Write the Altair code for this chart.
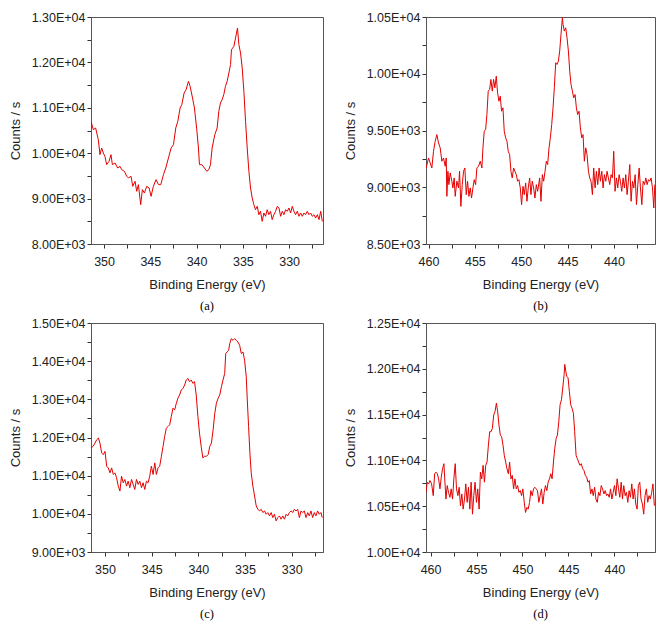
import altair as alt
import pandas as pd

# ---------------- data ----------------
a_ev = [351.41, 351.16, 350.91, 350.62, 350.44, 350.26, 350.08, 349.90, 349.72, 349.46,
        349.25, 349.10, 348.81, 348.53, 348.27, 348.09, 347.80, 347.55, 347.37, 347.08,
        346.90, 346.65, 346.47, 346.29, 346.04, 345.86, 345.64, 345.39, 345.13, 344.92,
        344.67, 344.38, 344.12, 343.87, 343.58, 343.33, 343.04, 342.75, 342.50, 342.25,
        342.03, 341.78, 341.60, 341.35, 341.13, 340.88, 340.70, 340.44, 340.23, 339.98,
        339.80, 339.69, 339.43, 339.15, 338.89,
        338.68, 338.50, 338.32, 338.03, 337.78, 337.60, 337.42, 337.24, 337.06, 336.88,
        336.70, 336.51, 336.33, 336.23, 335.97, 335.79, 335.58, 335.43, 335.25, 335.07,
        334.89, 334.71, 334.53, 334.35, 334.17, 333.99, 333.81, 333.63, 333.45, 333.27,
        333.09, 332.91, 332.73, 332.55, 332.37, 332.19, 332.01, 331.83, 331.65, 331.46,
        331.28, 331.10, 330.92, 330.74, 330.56, 330.38, 330.20, 330.02, 329.84, 329.66,
        329.48, 329.30, 329.12, 328.94, 328.76, 328.58, 328.40, 328.22, 328.04, 327.86,
        327.68, 327.50, 327.32, 327.14, 326.95, 326.77, 326.59, 326.41]
a_counts = [10702, 10519, 10555, 10298, 9968, 10115, 10005, 9931, 9748, 9821,
            9968, 9748, 9784, 9674, 9711, 9637, 9601, 9491, 9454, 9491,
            9270, 9381, 9160, 9307, 8867, 9197, 9124, 9270, 9234, 9050,
            9270, 9417, 9307, 9307, 9527, 9674, 9895, 10115, 10188, 10555,
            10702, 10996, 11069, 11326, 11400, 11583, 11473, 11216, 10996, 10519,
            10115, 9748, 9748, 9674, 9601,
            9638, 9748, 10115, 10409, 10555, 10923, 11106, 11180, 11290, 11473,
            11583, 11767, 11951, 12281, 12354, 12538, 12758, 12391, 12208, 11877,
            11363, 10702, 10115, 9601, 9234, 9013, 8867, 8756, 8830, 8646,
            8720, 8499, 8683, 8610, 8756, 8646, 8720, 8536, 8646, 8720,
            8830, 8793, 8610, 8720, 8646, 8756, 8720, 8793, 8683, 8830,
            8720, 8646, 8720, 8610, 8683, 8610, 8683, 8646, 8720, 8646,
            8683, 8610, 8646, 8573, 8646, 8536, 8720, 8499]

b_ev = [460.25, 460.00, 459.82, 459.64, 459.46, 459.28, 459.10, 458.92, 458.74, 458.56,
        458.38, 458.20, 458.09, 458.02, 457.91, 457.80, 457.66, 457.48, 457.37, 457.23,
        457.12, 456.94, 456.76, 456.65, 456.51, 456.36, 456.22, 456.08, 455.93, 455.79,
        455.64, 455.50, 455.36, 455.21, 455.07, 454.92, 454.78, 454.60, 454.42, 454.24,
        454.13, 453.99, 453.84, 453.70, 453.56, 453.41, 453.27, 453.12, 452.98, 452.84,
        452.69, 452.55, 452.40, 452.26, 452.12, 451.97, 451.83, 451.68, 451.54, 451.40,
        451.25, 451.11, 450.97, 450.82, 450.68, 450.53, 450.39, 450.25, 450.10, 449.96,
        449.81, 449.67, 449.52, 449.38, 449.24, 449.09, 448.95, 448.81, 448.66, 448.52,
        448.37, 448.23, 448.09,
        448.01, 447.87, 447.72, 447.58, 447.43, 447.29, 447.15, 447.00, 446.86, 446.71,
        446.57, 446.43, 446.28, 446.14, 445.99, 445.85, 445.71, 445.56,
        445.49, 445.35, 445.20, 445.06, 444.91, 444.77, 444.63, 444.48, 444.34, 444.19,
        444.05, 443.91, 443.76, 443.62, 443.47, 443.33, 443.19, 443.04, 442.90, 442.75,
        442.61, 442.47, 442.32, 442.18, 442.03, 441.89, 441.75, 441.60, 441.46, 441.31,
        441.17, 441.03, 440.88, 440.74, 440.60, 440.45, 440.31, 440.16, 440.02, 439.88,
        439.73, 439.59, 439.44, 439.30, 439.16, 439.01, 438.87, 438.72, 438.58, 438.44,
        438.29, 438.15, 438.00, 437.86, 437.71, 437.57, 437.42, 437.28, 437.14, 436.99,
        436.85, 436.70, 436.56, 436.42, 436.27, 436.13, 435.99, 435.84, 435.70, 435.59]
b_counts = [9170, 9258, 9214, 9170, 9317, 9405, 9464, 9391, 9347, 9229,
            9258, 9185, 9258, 8920, 9141, 9023, 9126, 9053, 8994, 9082,
            8920, 9053, 8994, 9141, 8832, 9023, 9141, 9170, 8935, 9053,
            8920, 8994, 8905, 8994, 9067, 9023, 9170, 9185, 9229, 9170,
            9347, 9494, 9508, 9641, 9847, 9861, 9950, 9847, 9950, 9876,
            9979, 9832, 9758, 9802, 9670, 9700, 9494, 9435, 9405, 9317,
            9288, 9141, 9082, 9170, 9141, 9111, 9053, 9067, 8994, 8847,
            9008, 8935, 9038, 8876, 8994, 9082, 8935, 9053, 8994, 8905,
            9023, 8964, 9038,
            9082, 8876, 9111, 9053, 9141, 9229, 9200, 9347, 9435, 9552,
            9700, 9876, 10097, 10082, 10111, 10200, 10347, 10494,
            10435, 10376, 10405, 10317, 10200, 10023, 9906, 9847, 9788, 9817,
            9700, 9641, 9670, 9523, 9435, 9464, 9229, 9347, 9288, 9141,
            9082, 9053, 8935, 9170, 8994, 9141, 9023, 9170, 9053, 9141,
            8994, 9111, 9053, 9141, 9082, 9023, 9111, 9082, 9317, 8964,
            9082, 8994, 9111, 9053, 8964, 9082, 8994, 9111, 8935, 9053,
            9200, 8876, 9053, 8994, 9111, 8847, 9023, 9170, 8994, 8847,
            9053, 9023, 9082, 9023, 9067, 9053, 9082, 8994, 8817, 9023]

c_ev = [351.50, 351.28, 351.07, 350.89, 350.71, 350.54, 350.36, 350.18, 350.00, 349.82,
        349.65, 349.47, 349.29, 349.11, 348.94, 348.76, 348.58, 348.40, 348.23, 348.05,
        347.87, 347.69, 347.52, 347.34, 347.16, 346.98, 346.81, 346.63, 346.45, 346.27,
        346.09, 345.92, 345.74, 345.56, 345.38, 345.21, 345.03, 344.85, 344.67, 344.50,
        344.32, 344.14, 343.96, 343.78, 343.61, 343.43, 343.25, 343.07, 342.90, 342.72,
        342.54, 342.36, 342.19, 342.01, 341.83, 341.65, 341.47, 341.30, 341.12, 340.94,
        340.76, 340.59, 340.41, 340.23, 340.05, 339.88, 339.70, 339.52, 339.34,
        339.13, 338.95, 338.78, 338.60, 338.42, 338.24, 338.07, 337.89, 337.71, 337.53,
        337.36, 337.18, 337.07, 336.93, 336.75, 336.64,
        336.47, 336.29, 336.11, 335.93, 335.76, 335.58, 335.40, 335.22, 335.05, 334.87,
        334.76, 334.62, 334.48, 334.34,
        334.16, 333.98, 333.80, 333.62, 333.45, 333.27, 333.09, 332.91, 332.74, 332.56,
        332.38, 332.20, 332.03, 331.85, 331.67, 331.49, 331.31, 331.14, 330.96, 330.78,
        330.60, 330.43, 330.25, 330.07, 329.89, 329.72, 329.54, 329.36, 329.18, 329.00,
        328.83, 328.65, 328.47, 328.29, 328.12, 327.94, 327.76, 327.58, 327.41, 327.23,
        327.05, 326.87, 326.73]
c_counts = [11725, 11769, 11855, 11942, 11986, 11855, 11595, 11552, 11638, 11248,
            11204, 11074, 11204, 11031, 11074, 10944, 10727, 10597, 10987, 10814,
            10901, 10727, 10857, 10684, 10901, 10771, 10640, 10901, 10771, 10857,
            10684, 10814, 10640, 10857, 10814, 10987, 11248, 11031, 11335, 11031,
            11204, 11248, 11508, 11769, 12029, 12246, 12289, 12333, 12550, 12767,
            12723, 12897, 13027, 13114, 13244, 13288, 13374, 13505, 13548, 13461,
            13505, 13418, 13461, 13114, 12550, 12116, 11769, 11465, 11508,
            11508, 11552, 11769, 11855, 12203, 12637, 12897, 13027, 13114, 13331,
            13505, 13678, 14199, 14242, 14286, 14459,
            14590, 14546, 14590, 14546, 14503, 14416, 14199, 14242, 14025, 13591,
            12984, 12289, 11595, 11074,
            10727, 10467, 10206, 10119, 10076, 10119, 10033, 10076, 9989, 10033,
            9946, 10033, 9902, 9989, 9816, 9902, 9946, 9859, 9946, 9859,
            9989, 9946, 10033, 10076, 10033, 10119, 10076, 10119, 9902, 10076,
            10033, 10076, 9902, 10033, 9946, 10076, 9902, 10033, 9946, 10076,
            9989, 10033, 9902]

d_ev = [460.50, 460.36, 460.21, 460.07, 459.89, 459.71, 459.56, 459.42, 459.27, 459.13,
        458.98, 458.84, 458.70, 458.55, 458.44, 458.33, 458.19, 458.05, 457.90, 457.76,
        457.61, 457.47, 457.32, 457.18, 457.03, 456.89, 456.75, 456.60, 456.46, 456.31,
        456.17, 456.02, 455.88, 455.73, 455.59, 455.44, 455.30, 455.16, 455.01, 454.87,
        454.72, 454.58, 454.43, 454.29, 454.14, 454.00, 453.86, 453.71, 453.57, 453.42,
        453.28, 453.13, 452.99, 452.84, 452.70, 452.56, 452.41, 452.27, 452.12, 451.98,
        451.83, 451.69, 451.54, 451.40, 451.26, 451.11, 450.97, 450.82, 450.68, 450.53,
        450.39, 450.24, 450.10, 449.96, 449.81, 449.67, 449.52, 449.38, 449.23, 449.09,
        448.94, 448.80, 448.66, 448.51, 448.37, 448.22,
        448.08, 447.93, 447.79, 447.64, 447.50, 447.35, 447.21, 447.06, 446.92, 446.78,
        446.63, 446.49, 446.34, 446.20, 446.05, 445.91, 445.76, 445.62, 445.47, 445.40,
        445.29, 445.19, 445.04, 444.90, 444.75, 444.61, 444.46, 444.32, 444.17, 444.03,
        443.89, 443.74, 443.60, 443.45, 443.31, 443.16, 443.02, 442.87, 442.73, 442.59,
        442.44, 442.30, 442.15, 442.01, 441.86, 441.72, 441.57, 441.43, 441.29, 441.14,
        441.00, 440.85, 440.71, 440.56, 440.42, 440.27, 440.13, 439.99, 439.84, 439.70,
        439.55, 439.41, 439.26, 439.12, 438.98, 438.83, 438.69, 438.54, 438.40, 438.25,
        438.11, 437.96, 437.82, 437.67, 437.53, 437.39, 437.24, 437.10, 436.95, 436.81,
        436.66, 436.52, 436.37, 436.23, 436.09, 435.94, 435.80, 435.65]
d_counts = [10652, 10762, 10744, 10780, 10744, 10615, 10854, 10872, 10854, 10799,
            10689, 10817, 10909, 10964, 10762, 10578, 10725, 10652, 10597, 10689,
            10578, 10799, 10964, 10689, 10615, 10707, 10505, 10634, 10468, 10578,
            10744, 10542, 10707, 10468, 10762, 10413, 10615, 10762, 10542, 10689,
            10468, 10872, 10799, 10946, 10762, 10946, 10982, 11166, 11313, 11313,
            11350, 11497, 11533, 11625, 11533, 11386, 11276, 11258, 11166, 11056,
            10982, 10909, 10854, 10982, 10799, 10836, 10689, 10799, 10689, 10725,
            10652, 10670, 10615, 10689, 10542, 10432, 10487, 10468, 10542, 10670,
            10615, 10689, 10707, 10689, 10670, 10542,
            10615, 10689, 10523, 10652, 10725, 10670, 10762, 10799, 10854, 10799,
            10982, 11129, 11239, 11276, 11423, 11607, 11662, 11790, 11937, 12048,
            11974, 11919, 11901, 11754, 11607, 11570, 11515, 11313, 11056, 11019,
            10982, 10946, 10964, 10909, 10891, 10836, 10817, 10762, 10780, 10634,
            10689, 10615, 10707, 10578, 10542, 10652, 10615, 10725, 10689, 10634,
            10670, 10615, 10634, 10597, 10689, 10578, 10652, 10725, 10615, 10799,
            10689, 10597, 10762, 10578, 10725, 10615, 10652, 10542, 10670, 10597,
            10744, 10578, 10689, 10523, 10468, 10725, 10762, 10578, 10523, 10413,
            10615, 10689, 10542, 10615, 10578, 10652, 10744, 10505]

a_xticks = [350, 347.5, 345, 342.5, 340, 337.5, 335, 332.5, 330, 327.5]
b_xticks = [460, 457.5, 455, 452.5, 450, 447.5, 445, 442.5, 440, 437.5]
a_yticks = [8000, 8500, 9000, 9500, 10000, 10500, 11000, 11500, 12000, 12500, 13000]
b_yticks = [8500, 8750, 9000, 9250, 9500, 9750, 10000, 10250, 10500]
c_yticks = [9000, 9500, 10000, 10500, 11000, 11500, 12000, 12500, 13000, 13500, 14000, 14500, 15000]
d_yticks = [10000, 10250, 10500, 10750, 11000, 11250, 11500, 11750, 12000, 12250, 12500]

FRAME = "#555555"
TEXT = "#222222"
SANS = "Liberation Sans"


def ylab(step):
    return (f"datum.value % {step} == 0 ? (datum.value >= 10000 ? "
            "format(datum.value / 10000, '.2f') + 'E+04' : "
            "format(datum.value / 1000, '.2f') + 'E+03') : ''")


def axis_style(**kw):
    return alt.Axis(labelOverlap=False, labelFlush=False, grid=False, tickSize=4,
                    domainColor=FRAME, tickColor="#333333", labelColor=TEXT, titleColor=TEXT,
                    labelFont=SANS, titleFont=SANS, labelFontSize=12.5, titleFontSize=13,
                    titleFontWeight="normal", **kw)


def panel(ev, counts, xdom, ydom, xticks, yticks, ystep, caption, w, h):
    df = pd.DataFrame({"ev": ev, "counts": counts})
    return alt.Chart(df).mark_line(color="#e50000", strokeWidth=1, clip=True).encode(
        x=alt.X("ev:Q", scale=alt.Scale(domain=[xdom[1], xdom[0]], reverse=True, nice=False, zero=False),
                axis=axis_style(title="Binding Energy (eV)", values=xticks,
                                labelExpr="datum.value % 5 == 0 ? format(datum.value, 'd') : ''",
                                labelPadding=7, titlePadding=11)),
        y=alt.Y("counts:Q", scale=alt.Scale(domain=ydom, nice=False, zero=False),
                axis=axis_style(title="Counts / s", values=yticks, labelExpr=ylab(ystep),
                                labelPadding=2, titlePadding=9)),
    ).properties(
        width=w, height=h,
        title=alt.TitleParams(text=caption, orient="bottom", font="Liberation Serif",
                              fontSize=12.5, fontWeight="normal", color="black", offset=8),
    )


pa = panel(a_ev, a_counts, (351.41, 326.34), [8000, 13000], a_xticks, a_yticks, 1000, "(a)", 232, 227)
pb = panel(b_ev, b_counts, (460.27, 435.57), [8500, 10500], b_xticks, b_yticks, 500, "(b)", 229, 227)
pc = panel(c_ev, c_counts, (351.5, 326.65), [9000, 15000], a_xticks, c_yticks, 1000, "(c)", 232, 229)
pd_ = panel(d_ev, d_counts, (460.5, 435.58), [10000, 12500], b_xticks, d_yticks, 500, "(d)", 229, 229)

chart = alt.concat(pa, pb, pc, pd_, columns=2, spacing={"row": 79, "column": 103}, bounds="flush").properties(
    padding={"left": 8, "top": 10, "right": 5, "bottom": 5},
    background="white",
).configure_view(
    stroke=FRAME, strokeWidth=1
)

chart.save("out.html", embed_options={"renderer": "svg", "actions": False})
